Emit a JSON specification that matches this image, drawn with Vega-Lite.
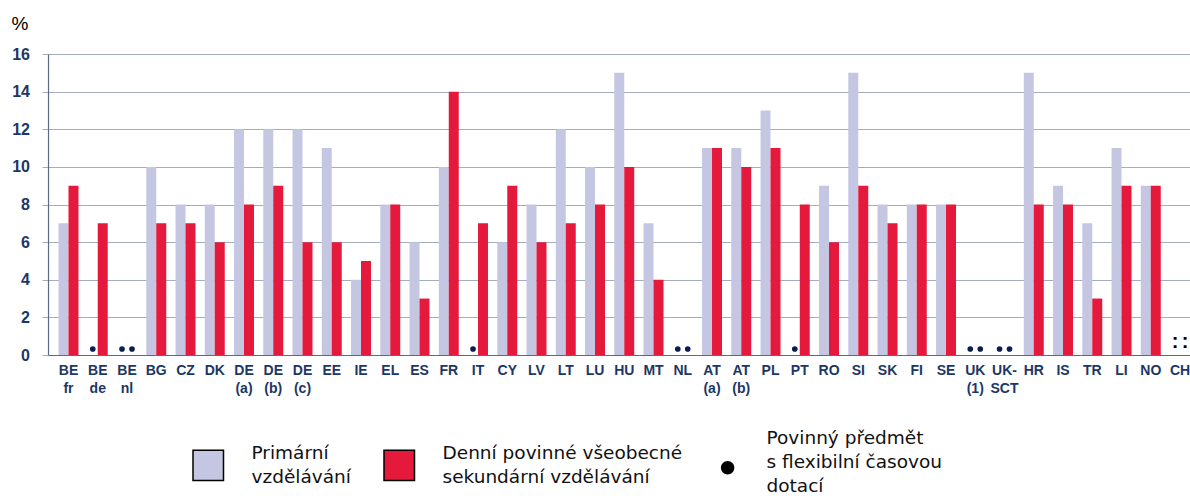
{
  "$schema": "https://vega.github.io/schema/vega-lite/v6.json",
  "autosize": {"type": "none"},
  "padding": {"left": 48, "top": 54, "right": 0, "bottom": 141},
  "width": 1142,
  "height": 301,
  "background": "white",
  "config": {
    "view": {"stroke": null},
    "axisY": {
      "tickCount": 12,
      "labelOverlap": false,
      "titleAngle": 0,
      "titleX": -37,
      "titleY": -31,
      "titleAlign": "left",
      "titleBaseline": "middle",
      "titleFont": "Liberation Sans",
      "titleFontSize": 19,
      "titleFontWeight": "normal",
      "titleColor": "#000000",
      "labelFont": "Liberation Sans",
      "labelFontSize": 16,
      "labelFontWeight": "bold",
      "labelColor": "#1c3766",
      "labelPadding": 12.5,
      "tickSize": 6,
      "tickColor": "#a3adbf",
      "gridColor": "#a3adbf",
      "gridWidth": 1,
      "domainColor": "#5b6985",
      "domainWidth": 1.2
    }
  },
  "data": {"values": [
    {"c":"BE|fr","s":"Primární|vzdělávání","v":7},{"c":"BE|fr","s":"Denní povinné všeobecné|sekundární vzdělávání","v":9},
    {"c":"BE|de","s":"Primární|vzdělávání","v":null,"m":"dot"},{"c":"BE|de","s":"Denní povinné všeobecné|sekundární vzdělávání","v":7},
    {"c":"BE|nl","s":"Primární|vzdělávání","v":null,"m":"dot"},{"c":"BE|nl","s":"Denní povinné všeobecné|sekundární vzdělávání","v":null,"m":"dot"},
    {"c":"BG","s":"Primární|vzdělávání","v":10},{"c":"BG","s":"Denní povinné všeobecné|sekundární vzdělávání","v":7},
    {"c":"CZ","s":"Primární|vzdělávání","v":8},{"c":"CZ","s":"Denní povinné všeobecné|sekundární vzdělávání","v":7},
    {"c":"DK","s":"Primární|vzdělávání","v":8},{"c":"DK","s":"Denní povinné všeobecné|sekundární vzdělávání","v":6},
    {"c":"DE|(a)","s":"Primární|vzdělávání","v":12},{"c":"DE|(a)","s":"Denní povinné všeobecné|sekundární vzdělávání","v":8},
    {"c":"DE|(b)","s":"Primární|vzdělávání","v":12},{"c":"DE|(b)","s":"Denní povinné všeobecné|sekundární vzdělávání","v":9},
    {"c":"DE|(c)","s":"Primární|vzdělávání","v":12},{"c":"DE|(c)","s":"Denní povinné všeobecné|sekundární vzdělávání","v":6},
    {"c":"EE","s":"Primární|vzdělávání","v":11},{"c":"EE","s":"Denní povinné všeobecné|sekundární vzdělávání","v":6},
    {"c":"IE","s":"Primární|vzdělávání","v":4},{"c":"IE","s":"Denní povinné všeobecné|sekundární vzdělávání","v":5},
    {"c":"EL","s":"Primární|vzdělávání","v":8},{"c":"EL","s":"Denní povinné všeobecné|sekundární vzdělávání","v":8},
    {"c":"ES","s":"Primární|vzdělávání","v":6},{"c":"ES","s":"Denní povinné všeobecné|sekundární vzdělávání","v":3},
    {"c":"FR","s":"Primární|vzdělávání","v":10},{"c":"FR","s":"Denní povinné všeobecné|sekundární vzdělávání","v":14},
    {"c":"IT","s":"Primární|vzdělávání","v":null,"m":"dot"},{"c":"IT","s":"Denní povinné všeobecné|sekundární vzdělávání","v":7},
    {"c":"CY","s":"Primární|vzdělávání","v":6},{"c":"CY","s":"Denní povinné všeobecné|sekundární vzdělávání","v":9},
    {"c":"LV","s":"Primární|vzdělávání","v":8},{"c":"LV","s":"Denní povinné všeobecné|sekundární vzdělávání","v":6},
    {"c":"LT","s":"Primární|vzdělávání","v":12},{"c":"LT","s":"Denní povinné všeobecné|sekundární vzdělávání","v":7},
    {"c":"LU","s":"Primární|vzdělávání","v":10},{"c":"LU","s":"Denní povinné všeobecné|sekundární vzdělávání","v":8},
    {"c":"HU","s":"Primární|vzdělávání","v":15},{"c":"HU","s":"Denní povinné všeobecné|sekundární vzdělávání","v":10},
    {"c":"MT","s":"Primární|vzdělávání","v":7},{"c":"MT","s":"Denní povinné všeobecné|sekundární vzdělávání","v":4},
    {"c":"NL","s":"Primární|vzdělávání","v":null,"m":"dot"},{"c":"NL","s":"Denní povinné všeobecné|sekundární vzdělávání","v":null,"m":"dot"},
    {"c":"AT|(a)","s":"Primární|vzdělávání","v":11},{"c":"AT|(a)","s":"Denní povinné všeobecné|sekundární vzdělávání","v":11},
    {"c":"AT|(b)","s":"Primární|vzdělávání","v":11},{"c":"AT|(b)","s":"Denní povinné všeobecné|sekundární vzdělávání","v":10},
    {"c":"PL","s":"Primární|vzdělávání","v":13},{"c":"PL","s":"Denní povinné všeobecné|sekundární vzdělávání","v":11},
    {"c":"PT","s":"Primární|vzdělávání","v":null,"m":"dot"},{"c":"PT","s":"Denní povinné všeobecné|sekundární vzdělávání","v":8},
    {"c":"RO","s":"Primární|vzdělávání","v":9},{"c":"RO","s":"Denní povinné všeobecné|sekundární vzdělávání","v":6},
    {"c":"SI","s":"Primární|vzdělávání","v":15},{"c":"SI","s":"Denní povinné všeobecné|sekundární vzdělávání","v":9},
    {"c":"SK","s":"Primární|vzdělávání","v":8},{"c":"SK","s":"Denní povinné všeobecné|sekundární vzdělávání","v":7},
    {"c":"FI","s":"Primární|vzdělávání","v":8},{"c":"FI","s":"Denní povinné všeobecné|sekundární vzdělávání","v":8},
    {"c":"SE","s":"Primární|vzdělávání","v":8},{"c":"SE","s":"Denní povinné všeobecné|sekundární vzdělávání","v":8},
    {"c":"UK|(1)","s":"Primární|vzdělávání","v":null,"m":"dot"},{"c":"UK|(1)","s":"Denní povinné všeobecné|sekundární vzdělávání","v":null,"m":"dot"},
    {"c":"UK-|SCT","s":"Primární|vzdělávání","v":null,"m":"dot"},{"c":"UK-|SCT","s":"Denní povinné všeobecné|sekundární vzdělávání","v":null,"m":"dot"},
    {"c":"HR","s":"Primární|vzdělávání","v":15},{"c":"HR","s":"Denní povinné všeobecné|sekundární vzdělávání","v":8},
    {"c":"IS","s":"Primární|vzdělávání","v":9},{"c":"IS","s":"Denní povinné všeobecné|sekundární vzdělávání","v":8},
    {"c":"TR","s":"Primární|vzdělávání","v":7},{"c":"TR","s":"Denní povinné všeobecné|sekundární vzdělávání","v":3},
    {"c":"LI","s":"Primární|vzdělávání","v":11},{"c":"LI","s":"Denní povinné všeobecné|sekundární vzdělávání","v":9},
    {"c":"NO","s":"Primární|vzdělávání","v":9},{"c":"NO","s":"Denní povinné všeobecné|sekundární vzdělávání","v":9},
    {"c":"CH","s":"Primární|vzdělávání","v":null,"m":"na"},{"c":"CH","s":"Denní povinné všeobecné|sekundární vzdělávání","v":null,"m":"na"}
  ]},
  "encoding": {
    "x": {
      "field": "c", "type": "nominal", "title": null,
      "scale": {
        "domain": ["BE|fr","BE|de","BE|nl","BG","CZ","DK","DE|(a)","DE|(b)","DE|(c)","EE","IE","EL","ES","FR","IT","CY","LV","LT","LU","HU","MT","NL","AT|(a)","AT|(b)","PL","PT","RO","SI","SK","FI","SE","UK|(1)","UK-|SCT","HR","IS","TR","LI","NO","CH"],
        "paddingInner": 0.318,
        "paddingOuter": 0.18,
        "align": 1
      },
      "axis": {
        "labelExpr": "split(datum.label, '|')",
        "labelAngle": 0,
        "labelAlign": "center",
        "labelBaseline": "top",
        "labelPadding": 8,
        "labelLineHeight": 18,
        "labelFont": "Liberation Sans",
        "labelFontSize": 14,
        "labelFontWeight": "bold",
        "labelColor": "#1c3766",
        "labelOverlap": false,
        "labelFlush": false,
        "labelLimit": 100,
        "ticks": false,
        "grid": false,
        "domainColor": "#5b6985",
        "domainWidth": 1.2
      }
    },
    "xOffset": {
      "field": "s", "type": "nominal",
      "scale": {"domain": ["Primární|vzdělávání", "Denní povinné všeobecné|sekundární vzdělávání"], "paddingInner": 0, "paddingOuter": 0}
    }
  },
  "layer": [
    {
      "transform": [{"filter": "isValid(datum.v)"}],
      "mark": {"type": "bar"},
      "encoding": {
        "y": {
          "field": "v", "type": "quantitative", "title": "%",
          "scale": {"domain": [0, 16], "nice": false},
          "axis": {"values": [0, 2, 4, 6, 8, 10, 12, 14, 16], "tickCount": 12, "title": "%"}
        },
        "color": {
          "field": "s", "type": "nominal",
          "scale": {
            "domain": ["Primární|vzdělávání", "Denní povinné všeobecné|sekundární vzdělávání", "Povinný předmět|s flexibilní časovou|dotací"],
            "range": ["#c5c6e2", "#e4193b", "#000000"]
          },
          "legend": {
            "title": null,
            "orient": "none",
            "legendX": 151,
            "legendY": 393,
            "direction": "horizontal",
            "padding": 0,
            "symbolType": "square",
            "symbolSize": 930,
            "symbolStrokeColor": "#000000",
            "symbolStrokeWidth": 1.5,
            "labelExpr": "split(datum.label, '|')",
            "labelFont": "DejaVu Sans",
            "labelFontSize": 18.5,
            "labelColor": "#111111",
            "labelLimit": 400,
            "labelOffset": 34,
            "columnPadding": 30,
            "encode": {
              "labels": {"update": {
                "lineHeight": {"value": 24},
                "dy": {"signal": "-12 * (length(split(datum.label, '|')) - 1) + (datum.index === 2 ? 6 : 0)"},
                "dx": {"signal": "datum.index === 2 ? 1 : 0"}
              }},
              "symbols": {"update": {
                "shape": {"signal": "datum.index === 2 ? 'M0.8,1.7m-1,0a1,1 0 1,0 2,0a1,1 0 1,0 -2,0Z' : 'square'"},
                "size": {"signal": "datum.index === 2 ? 180 : 930"},
                "strokeWidth": {"signal": "datum.index === 2 ? 0 : 1.5"}
              }}
            }
          }
        }
      }
    },
    {
      "transform": [{"filter": "datum.m === 'dot'"}],
      "mark": {"type": "point", "filled": true, "size": 32, "color": "#0b1d50", "opacity": 1, "yOffset": -6},
      "encoding": {
        "y": {"datum": 0, "type": "quantitative", "title": "%", "axis": {"values": [0, 2, 4, 6, 8, 10, 12, 14, 16], "tickCount": 12, "title": "%"}}
      }
    },
    {
      "transform": [{"filter": "datum.m === 'na'"}],
      "mark": {"type": "text", "text": ":", "font": "Liberation Sans", "fontSize": 20, "fontWeight": "bold", "color": "#000000", "baseline": "alphabetic", "dy": -7},
      "encoding": {
        "y": {"datum": 0, "type": "quantitative", "title": "%", "axis": {"values": [0, 2, 4, 6, 8, 10, 12, 14, 16], "tickCount": 12, "title": "%"}}
      }
    }
  ]
}
